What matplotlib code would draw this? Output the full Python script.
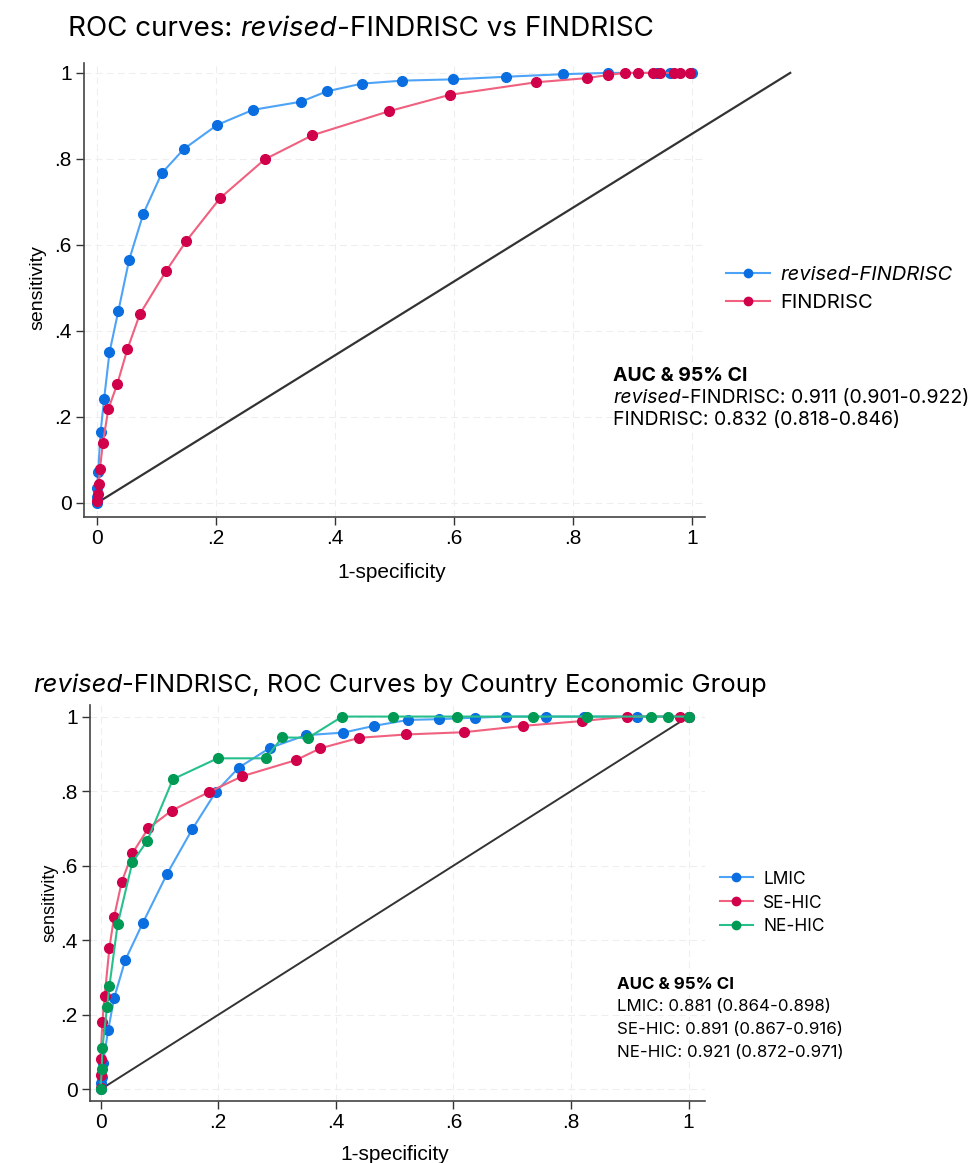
import matplotlib
matplotlib.use("Agg")
import matplotlib.pyplot as plt
from matplotlib.lines import Line2D

W, H = 971, 1163

# ---- top panel data ----
rev_x = [0, 0, 0, 0.002, 0.006, 0.012, 0.021, 0.036, 0.054, 0.078, 0.109, 0.146,
         0.202, 0.262, 0.343, 0.386, 0.445, 0.513, 0.599, 0.687, 0.783, 0.859,
         0.941, 0.963, 1.0]
rev_y = [0, 0.015, 0.034, 0.071, 0.164, 0.242, 0.350, 0.447, 0.565, 0.673, 0.767,
         0.823, 0.879, 0.914, 0.933, 0.957, 0.975, 0.982, 0.985, 0.991, 0.997,
         1.0, 1.0, 1.0, 1.0]
fin_x = [0, 0.002, 0.003, 0.005, 0.010, 0.019, 0.034, 0.051, 0.072, 0.116, 0.150,
         0.207, 0.282, 0.362, 0.491, 0.593, 0.737, 0.824, 0.858, 0.888, 0.909,
         0.935, 0.946, 0.969, 0.980, 0.997]
fin_y = [0.005, 0.022, 0.044, 0.080, 0.140, 0.218, 0.276, 0.357, 0.439, 0.539,
         0.609, 0.709, 0.799, 0.855, 0.911, 0.949, 0.978, 0.988, 0.995, 1, 1, 1,
         1, 1, 1, 1]
top_diag_x = [0, 1.165]
top_diag_y = [0, 1.0]

# ---- bottom panel data ----
lmic_x = [0, 0, 0.002, 0.004, 0.013, 0.023, 0.042, 0.072, 0.113, 0.156, 0.196,
          0.235, 0.288, 0.349, 0.413, 0.465, 0.523, 0.575, 0.637, 0.689, 0.757,
          0.822, 0.912, 1.0]
lmic_y = [0, 0.017, 0.034, 0.070, 0.160, 0.245, 0.347, 0.447, 0.578, 0.698, 0.798,
          0.863, 0.916, 0.950, 0.957, 0.975, 0.991, 0.993, 0.997, 1, 1, 1, 1, 1]
sehic_x = [0, 0, 0, 0.003, 0.007, 0.015, 0.023, 0.036, 0.054, 0.081, 0.121, 0.185,
           0.241, 0.332, 0.374, 0.440, 0.520, 0.618, 0.719, 0.819, 0.896, 0.985, 1.0]
sehic_y = [0.003, 0.039, 0.081, 0.181, 0.251, 0.380, 0.463, 0.557, 0.633, 0.700,
           0.748, 0.798, 0.840, 0.883, 0.915, 0.943, 0.952, 0.958, 0.975, 0.988,
           1.0, 1.0, 1.0]
nehic_x = [0, 0.002, 0.003, 0.011, 0.015, 0.029, 0.054, 0.079, 0.123, 0.199, 0.281,
           0.309, 0.353, 0.411, 0.498, 0.607, 0.736, 0.828, 0.937, 0.965, 1.0]
nehic_y = [0, 0.054, 0.110, 0.221, 0.277, 0.443, 0.609, 0.666, 0.832, 0.888, 0.888,
           0.944, 0.943, 1, 1, 1, 1, 1, 1, 1, 1]
bot_diag_x = [0, 1]
bot_diag_y = [0, 1]

ticks = [0, 0.2, 0.4, 0.6, 0.8, 1]
tick_labels = ["0", ".2", ".4", ".6", ".8", "1"]

BLUE = ("#4da3f7", "#0a6ee0")
RED = ("#f0607f", "#d1004a")
GREEN = ("#27c08c", "#009a55")

NARROW = ["Liberation Sans Narrow", "Liberation Sans", "DejaVu Sans"]
SANS = ["Inter", "DejaVu Sans"]

fig = plt.figure(figsize=(W / 100, H / 100), dpi=100)
renderer = fig.canvas.get_renderer()


def px_axes(left, top, right, bottom):
    return fig.add_axes([left / W, 1 - bottom / H, (right - left) / W, (bottom - top) / H])


def rich(x_px, y_px, parts, size):
    # draw text pieces one after another on a common baseline
    x = x_px
    for s, style, weight in parts:
        t = fig.text(x / W, 1 - y_px / H, s, fontsize=size, style=style,
                     weight=weight, family=SANS, va="baseline", ha="left")
        x += t.get_window_extent(renderer).width


def style_axes(ax, xlim, ylim):
    ax.set_xlim(*xlim)
    ax.set_ylim(*ylim)
    ax.set_xticks(ticks, tick_labels)
    ax.set_yticks(ticks, tick_labels)
    for lab in ax.get_xticklabels() + ax.get_yticklabels():
        lab.set_family(NARROW)
        lab.set_fontsize(15)
    ax.tick_params(length=6, width=1, color="#333333", pad=3)
    ax.spines["top"].set_visible(False)
    ax.spines["right"].set_visible(False)
    for s in ("left", "bottom"):
        ax.spines[s].set_color("#444444")
        ax.spines[s].set_linewidth(1.2)
    ax.grid(True, color="#eeeeee", linestyle=(0, (6, 4)), linewidth=0.8)
    ax.set_axisbelow(True)


def curve(ax, x, y, col, label):
    ax.plot(x, y, color=col[0], linewidth=1.5, marker="o", markersize=7,
            markerfacecolor=col[1], markeredgecolor=col[1], label=label, zorder=3)


# ---------------- top panel ----------------
ax1 = px_axes(84, 63, 705, 517)
style_axes(ax1, (-0.0218, 1.0218), (-0.0326, 1.023))
ax1.plot(top_diag_x, top_diag_y, color="#333333", linewidth=1.6, clip_on=False, zorder=2)
curve(ax1, rev_x, rev_y, BLUE, "revised-FINDRISC")
curve(ax1, fin_x, fin_y, RED, "FINDRISC")

rich(68, 36, [("ROC curves: ", "normal", "normal"), ("revised", "italic", "normal"),
              ("-FINDRISC vs FINDRISC", "normal", "normal")], 20)
fig.text(38 / W, 1 - 288 / H, "sensitivity", rotation=90, ha="center", va="center",
         family=NARROW, fontsize=14)
fig.text(392 / W, 1 - 572 / H, "1-specificity", ha="center", va="center",
         family=NARROW, fontsize=15)

h1 = [Line2D([], [], color=BLUE[0], lw=1.5, marker="o", ms=6, mfc=BLUE[1], mec=BLUE[1]),
      Line2D([], [], color=RED[0], lw=1.5, marker="o", ms=6, mfc=RED[1], mec=RED[1])]
leg1 = fig.legend(h1, ["revised-FINDRISC", "FINDRISC"], loc="center left",
                  bbox_to_anchor=(708 / W, 1 - 289 / H), frameon=False,
                  prop={"family": SANS, "size": 14.5}, handlelength=2.2,
                  handletextpad=0.5, labelspacing=0.45)
leg1.get_texts()[0].set_style("italic")

rich(613, 381, [("AUC & 95% CI", "normal", "bold")], 14)
rich(613, 403, [("revised", "italic", "normal"),
                ("-FINDRISC: 0.911 (0.901-0.922)", "normal", "normal")], 14)
rich(613, 425, [("FINDRISC: 0.832 (0.818-0.846)", "normal", "normal")], 14)

# ---------------- bottom panel ----------------
ax2 = px_axes(90, 705, 705, 1101)
style_axes(ax2, (-0.018, 1.028), (-0.031, 1.031))
ax2.plot(bot_diag_x, bot_diag_y, color="#333333", linewidth=1.4, zorder=2)
curve(ax2, lmic_x, lmic_y, BLUE, "LMIC")
curve(ax2, sehic_x, sehic_y, RED, "SE-HIC")
curve(ax2, nehic_x, nehic_y, GREEN, "NE-HIC")

rich(33, 692, [("revised", "italic", "normal"),
               ("-FINDRISC, ROC Curves by Country Economic Group", "normal", "normal")], 18.5)
fig.text(50 / W, 1 - 903 / H, "sensitivity", rotation=90, ha="center", va="center",
         family=NARROW, fontsize=13)
fig.text(395 / W, 1 - 1154 / H, "1-specificity", ha="center", va="center",
         family=NARROW, fontsize=15)

h2 = [Line2D([], [], color=c[0], lw=1.5, marker="o", ms=6, mfc=c[1], mec=c[1])
      for c in (BLUE, RED, GREEN)]
fig.legend(h2, ["LMIC", "SE-HIC", "NE-HIC"], loc="center left",
           bbox_to_anchor=(704 / W, 1 - 903 / H), frameon=False,
           prop={"family": SANS, "size": 12.5}, handlelength=1.9,
           handletextpad=0.6, labelspacing=0.4)

rich(617, 989, [("AUC & 95% CI", "normal", "bold")], 12.2)
rich(617, 1011, [("LMIC: 0.881 (0.864-0.898)", "normal", "normal")], 12.2)
rich(617, 1034, [("SE-HIC: 0.891 (0.867-0.916)", "normal", "normal")], 12.2)
rich(617, 1057, [("NE-HIC: 0.921 (0.872-0.971)", "normal", "normal")], 12.2)

fig.savefig("out.png", dpi=100)
